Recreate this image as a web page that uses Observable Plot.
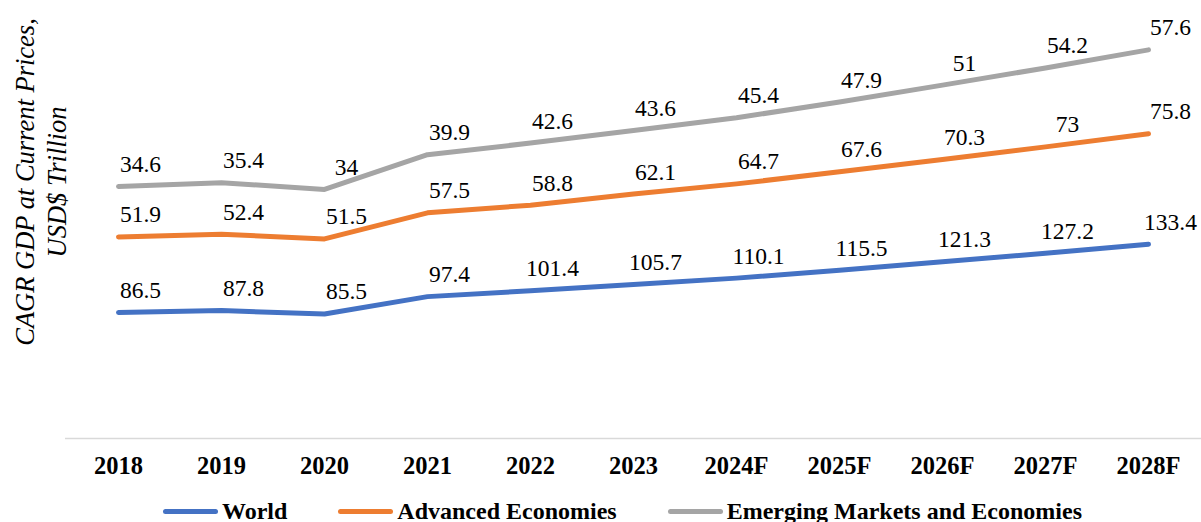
<!DOCTYPE html>
<html><head><meta charset="utf-8">
<script src="https://cdn.jsdelivr.net/npm/d3@7"></script>
<script src="https://cdn.jsdelivr.net/npm/@observablehq/plot@0.6"></script>
<style>
html,body{margin:0;padding:0;background:#fff;overflow:hidden;}
#chart svg text{font-family:"Liberation Serif","Times New Roman",serif !important;}
#legend{display:flex;align-items:center;height:42px;padding-left:163px;font-family:"Liberation Serif","Times New Roman",serif;font-weight:bold;font-size:24px;color:#000;}
.item{display:flex;align-items:center;margin-right:51px;}
.sw{width:55px;height:5px;border-radius:3px;margin-right:4px;}
</style></head><body>
<div id="chart"></div>
<div id="legend"></div>
<script>
const years = ["2018","2019","2020","2021","2022","2023","2024F","2025F","2026F","2027F","2028F"];
const seriesNames = ["World","Advanced Economies","Emerging Markets and Economies"];
const world = [86.5,87.8,85.5,97.4,101.4,105.7,110.1,115.5,121.3,127.2,133.4];
const advanced = [51.9,52.4,51.5,57.5,58.8,62.1,64.7,67.6,70.3,73,75.8];
const emerging = [34.6,35.4,34,39.9,42.6,43.6,45.4,47.9,51,54.2,57.6];
const colors = ["#4472C4","#ED7D31","#A5A5A5"];

const seriesValues = [world, advanced, emerging];
const rows = [];
seriesNames.forEach((s, i) => years.forEach((yr, j) => rows.push({year: yr, series: s, value: seriesValues[i][j]})));

const FONT = "Liberation Serif, Times New Roman, serif";
const W = 1201, H = 490;
const chart = Plot.plot({
  width: W, height: H,
  marginLeft: 65, marginRight: 0, marginTop: 1, marginBottom: 52,
  style: {fontFamily: FONT, background: "#fff", color: "#000"},
  x: {type: "point", domain: years, padding: 0.5},
  y: {domain: [0, 300], axis: null},
  color: {domain: seriesNames, range: colors},
  marks: [
    Plot.ruleY([0], {stroke: "#d9d9d9", strokeWidth: 1.5}),
    Plot.axisX({tickSize: 0, tickPadding: 18, fontSize: 24.5, fontWeight: "bold", fontFamily: FONT, label: null}),
    Plot.lineY(rows, Plot.stackY2({x: "year", y: "value", z: "series", stroke: "series", strokeWidth: 5, strokeLinecap: "round", strokeLinejoin: "round"})),
    Plot.text(rows, Plot.stackY2({x: "year", y: "value", z: "series", text: d => String(d.value), dx: 22, dy: -22, fontSize: 23.5, fontFamily: FONT, fill: "#000"}))
  ]
});
document.getElementById("chart").appendChild(chart);

// y-axis title
const svg = d3.select(chart);
const t = svg.append("text")
  .attr("transform", "translate(0,182) rotate(-90)")
  .attr("text-anchor", "middle")
  .attr("font-style", "italic")
  .attr("font-size", 26.5)
  .attr("font-family", FONT)
  .attr("fill", "#000");
t.append("tspan").attr("x", 0).attr("y", 34).text("CAGR GDP at Current Prices,");
t.append("tspan").attr("x", 0).attr("y", 66).text("USD$ Trillion");

// legend
const lg = d3.select("#legend");
seriesNames.forEach((s, i) => {
  const it = lg.append("div").attr("class", "item");
  it.append("div").attr("class", "sw").style("background", colors[i]);
  it.append("span").text(s);
});
</script>
</body></html>
